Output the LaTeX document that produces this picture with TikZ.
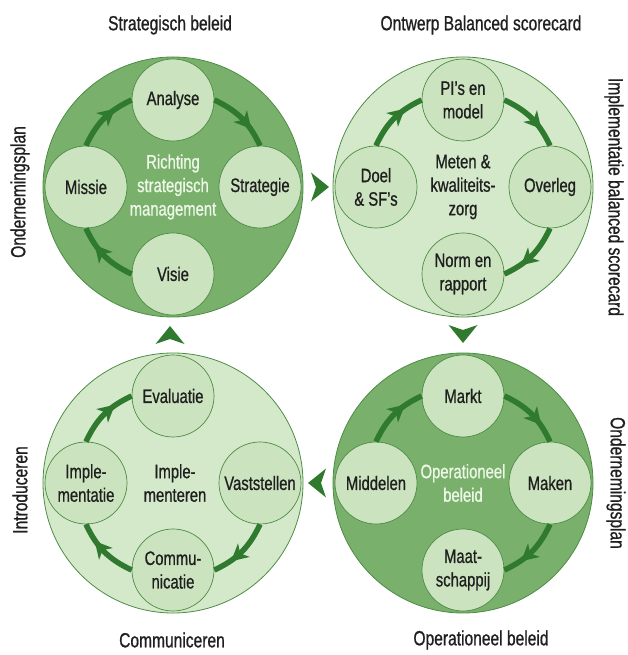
\documentclass[tikz,border=0pt]{standalone}
\usepackage{fontspec}
\setmainfont{Liberation Sans}[FakeStretch=0.76,FakeBold=0.8]
\usetikzlibrary{decorations.markings}
\definecolor{dkfill}{HTML}{78B06C}
\definecolor{ltfill}{HTML}{D3E9CA}
\definecolor{smfill}{HTML}{CBE4BF}
\definecolor{rim}{HTML}{4E8C45}
\definecolor{arr}{HTML}{2F7A2F}
\definecolor{txt}{HTML}{1F1F1F}
\definecolor{wtxt}{HTML}{EEF7E8}
\newcommand\lblfont{\fontsize{19.5}{23.5}\selectfont}
\newcommand\sidefont{\fontsize{20.5}{24}\selectfont}
\pgfdeclarelayer{bg}
\pgfsetlayers{bg,main}
\begin{document}
\begin{tikzpicture}[x=1pt,y=1pt,
  big/.style={circle, draw=rim, line width=0.8pt, minimum size=260pt, inner sep=0pt},
  small/.style={circle, draw=rim, line width=0.7pt, fill=smfill, minimum size=82pt, inner sep=0pt, align=center, font=\lblfont, text=txt},
  ctr/.style={align=center, font=\lblfont, text=txt},
  ctrw/.style={align=center, font=\lblfont, text=wtxt},
  side/.style={font=\sidefont, text=txt, inner sep=0pt},
  cyc/.style={draw=arr, line width=5.5pt, postaction={decorate},
    decoration={markings, mark=at position 0.58 with {\fill[arr] (9pt,0pt) -- (-8pt,9pt) -- (-3pt,0pt) -- (-8pt,-9pt) -- cycle;}}},
  conn/.style={fill=arr},
  lt/.style={out=65,in=205},
  tr/.style={out=-25,in=115},
  rb/.style={out=-115,in=25},
  bl/.style={out=155,in=-65}
]
\useasboundingbox (0,0) rectangle (628,655);

% big circles
\begin{pgfonlayer}{bg}
\fill[white] (0,0) rectangle (628,655);
\node[big, fill=dkfill] (tl) at (173,468) {};
\node[big, fill=ltfill] (tr) at (463,468) {};
\node[big, fill=ltfill] (bl) at (173,172) {};
\node[big, fill=dkfill] (br) at (463,172) {};
\end{pgfonlayer}

% top-left
\node[ctrw] (tlc) at (173,468) {Richting\\strategisch\\management};
\node[small] (tla) at (173,555) {Analyse};
\node[small] (tls) at (260,468) {Strategie};
\node[small] (tlv) at (173,381) {Visie};
\node[small] (tlm) at (86,468) {Missie};
\draw[cyc] (tlm.north) to[lt] (tla.west);
\draw[cyc] (tla.east) to[tr] (tls.north);
\draw[cyc] (tlv.west) to[bl] (tlm.south);

% top-right
\node[ctr] (trc) at (463,468) {Meten \&\\kwaliteits-\\zorg};
\node[small] (trp) at (463,555) {PI’s en\\model};
\node[small] (tro) at (550,468) {Overleg};
\node[small] (trn) at (463,381) {Norm en\\rapport};
\node[small] (trd) at (376,468) {Doel\\\& SF’s};
\draw[cyc] (trd.north) to[lt] (trp.west);
\draw[cyc] (trp.east) to[tr] (tro.north);
\draw[cyc] (tro.south) to[rb] (trn.east);

% bottom-left
\node[ctr] (blc) at (175,172) {Imple-\\menteren};
\node[small] (ble) at (173,259) {Evaluatie};
\node[small] (blv) at (260,172) {Vaststellen};
\node[small] (blk) at (173,85) {Commu-\\nicatie};
\node[small] (bli) at (86,172) {Imple-\\mentatie};
\draw[cyc] (blv.south) to[rb] (blk.east);
\draw[cyc] (blk.west) to[bl] (bli.south);
\draw[cyc] (bli.north) to[lt] (ble.west);

% bottom-right
\node[ctrw] (brc) at (463,172) {Operationeel\\beleid};
\node[small] (brm) at (463,259) {Markt};
\node[small] (brk) at (550,172) {Maken};
\node[small] (brs) at (463,85) {Maat-\\schappij};
\node[small] (brd) at (376,172) {Middelen};
\draw[cyc] (brd.north) to[lt] (brm.west);
\draw[cyc] (brm.east) to[tr] (brk.north);
\draw[cyc] (brk.south) to[rb] (brs.east);

% connectors between the cycles
\coordinate (c1) at (319,468);
\coordinate (c2) at (463,322);
\coordinate (c3) at (318,172);
\coordinate (c4) at (170,319);
\fill[conn, shift={(c1)}, rotate=0]   (10,0) -- (-8,14.5) -- (-3,0) -- (-8,-14.5) -- cycle;
\fill[conn, shift={(c2)}, rotate=-90] (10,0) -- (-8,14.5) -- (-3,0) -- (-8,-14.5) -- cycle;
\fill[conn, shift={(c3)}, rotate=180] (10,0) -- (-8,14.5) -- (-3,0) -- (-8,-14.5) -- cycle;
\fill[conn, shift={(c4)}, rotate=90]  (10,0) -- (-8,14.5) -- (-3,0) -- (-8,-14.5) -- cycle;

% side labels
\node[side] (t1) at (170,630) {Strategisch beleid};
\node[side] (t2) at (481,630) {Ontwerp Balanced scorecard};
\node[side, rotate=90] (l1) at (20,463) {Ondernemingsplan};
\node[side, rotate=-90] (r1) at (614,458) {Implementatie balanced scorecard};
\node[side, rotate=90] (l2) at (20,165) {Introduceren};
\node[side, rotate=-90] (r2) at (616,172) {Ondernemingsplan};
\node[side] (b1) at (172,15) {Communiceren};
\node[side] (b2) at (481,15) {Operationeel beleid};
\end{tikzpicture}
\end{document}
